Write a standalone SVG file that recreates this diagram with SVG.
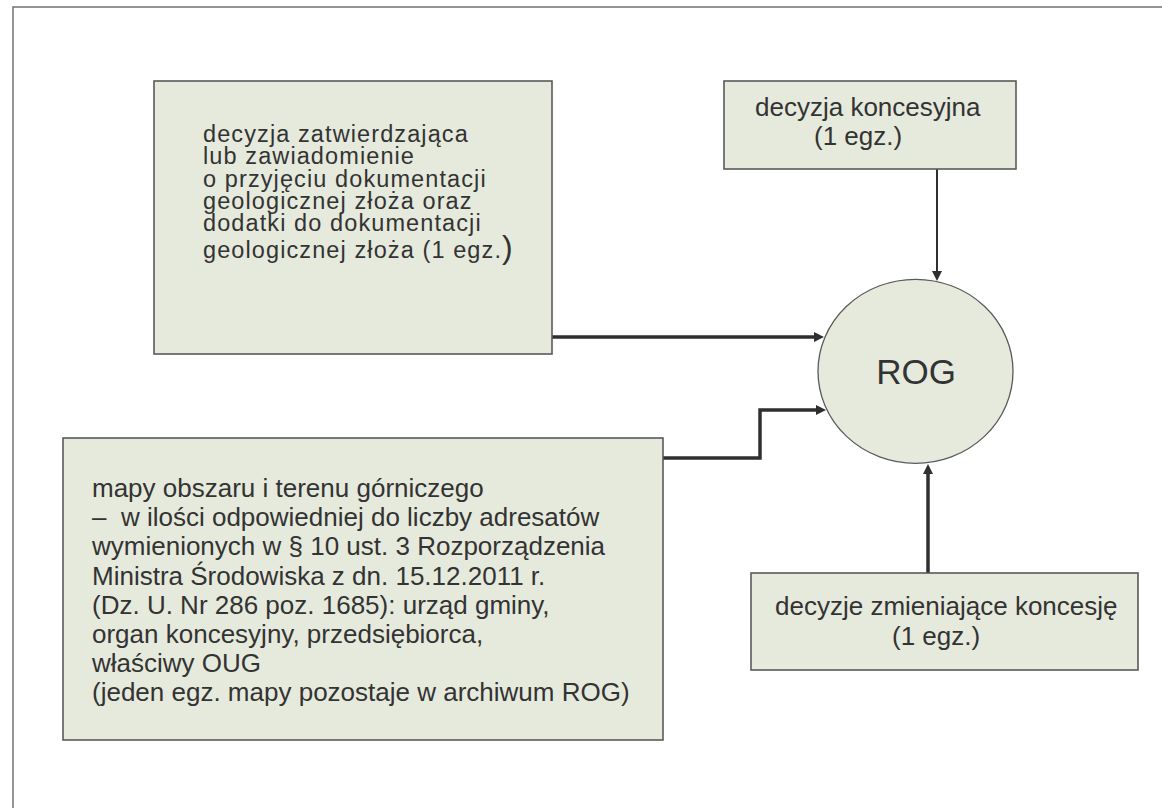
<svg xmlns="http://www.w3.org/2000/svg" width="1162" height="808" viewBox="0 0 1162 808">
  <defs>
    <style>
      .box { fill: #e6eadc; stroke: #5a5a5a; stroke-width: 1.6; }
      .txt { font-family: "Liberation Sans", Arial, sans-serif; font-size: 26px; fill: #333333; white-space: pre; }
      .tight { font-size: 23.5px; letter-spacing: 1.1px; }
      .conn { fill: none; stroke: #2f2f2f; }
      .thick { stroke-width: 3.5; }
      .thin { stroke-width: 2; }
    </style>
    <marker id="ah" viewBox="0 0 10 10" refX="3" refY="5" markerWidth="12" markerHeight="10" markerUnits="userSpaceOnUse" orient="auto">
      <path d="M0,0 L10,5 L0,10 z" fill="#2f2f2f"/>
    </marker>
  </defs>

  <rect x="0" y="0" width="1162" height="808" fill="#ffffff"/>
  <rect id="frame" x="13" y="7" width="1200" height="900" fill="none" stroke="#7a7a7a" stroke-width="1.6"/>

  <g id="connectors">
    <path class="conn thick" d="M552,337 L817,337" marker-end="url(#ah)"/>
    <path class="conn thick" d="M663,458 L760,458 L760,410 L819,410" marker-end="url(#ah)"/>
    <path class="conn thin" d="M937,169 L937,274" marker-end="url(#ah)"/>
    <path class="conn thick" d="M928,573 L928,471" marker-end="url(#ah)"/>
  </g>

  <g id="node-dokumentacja">
    <rect class="box" x="154" y="81" width="398" height="273"/>
    <text class="txt tight">
      <tspan x="203" y="141.5">decyzja zatwierdzająca</tspan>
      <tspan x="203" y="164">lub zawiadomienie</tspan>
      <tspan x="203" y="186.5">o przyjęciu dokumentacji</tspan>
      <tspan x="203" y="209">geologicznej złoża oraz</tspan>
      <tspan x="203" y="231">dodatki do dokumentacji</tspan>
      <tspan x="203" y="258">geologicznej złoża (1 egz.<tspan font-size="32">)</tspan></tspan>
    </text>
  </g>

  <g id="node-koncesja">
    <rect class="box" x="724" y="81" width="292" height="88"/>
    <text class="txt">
      <tspan x="755" y="116">decyzja koncesyjna</tspan>
      <tspan x="814" y="145">(1 egz.)</tspan>
    </text>
  </g>

  <g id="node-rog">
    <ellipse cx="915.5" cy="371.3" rx="97.5" ry="92" fill="#e6eadc" stroke="#5a5a5a" stroke-width="1.3"/>
    <text class="txt" x="916" y="384" text-anchor="middle" style="font-size:35px">ROG</text>
  </g>

  <g id="node-mapy">
    <rect class="box" x="63" y="438" width="600" height="302"/>
    <text class="txt">
      <tspan x="92" y="497">mapy obszaru i terenu górniczego</tspan>
      <tspan x="92" y="526">–  w ilości odpowiedniej do liczby adresatów</tspan>
      <tspan x="92" y="555">wymienionych w § 10 ust. 3 Rozporządzenia</tspan>
      <tspan x="92" y="585">Ministra Środowiska z dn. 15.12.2011 r.</tspan>
      <tspan x="92" y="614">(Dz. U. Nr 286 poz. 1685): urząd gminy,</tspan>
      <tspan x="92" y="643">organ koncesyjny, przedsiębiorca,</tspan>
      <tspan x="92" y="672">właściwy OUG</tspan>
      <tspan x="92" y="701">(jeden egz. mapy pozostaje w archiwum ROG)</tspan>
    </text>
  </g>

  <g id="node-zmiany">
    <rect class="box" x="751" y="573" width="387" height="97"/>
    <text class="txt">
      <tspan x="775" y="615">decyzje zmieniające koncesję</tspan>
      <tspan x="892" y="645">(1 egz.)</tspan>
    </text>
  </g>
</svg>
